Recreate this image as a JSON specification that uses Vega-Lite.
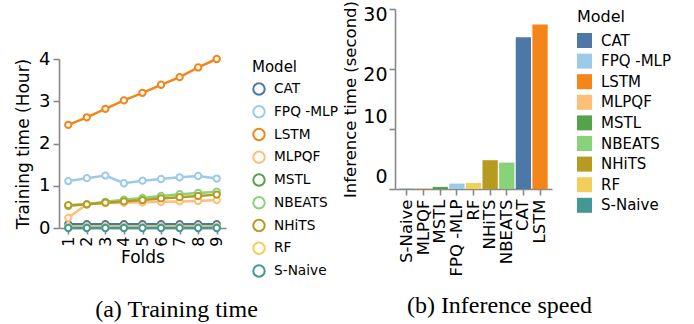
{
  "$schema": "https://vega.github.io/schema/vega-lite/v6.json",
  "padding": {"left": 14, "top": 0, "right": 0, "bottom": 0},
  "config": {
    "font": "DejaVu Sans",
    "view": {"stroke": null},
    "axis": {"grid": false, "domainColor": "#888", "domainWidth": 1.6, "tickColor": "#888", "tickWidth": 1.6, "tickSize": 6, "labelColor": "#000", "titleColor": "#000", "titleFontWeight": "normal"},
    "legend": {"labelColor": "#000", "titleColor": "#000", "titleFontWeight": "normal"},
    "title": {"font": "Liberation Serif", "fontWeight": "normal", "color": "#000", "fontSize": 24}
  },
  "datasets": {
    "train": [
      {"Model": "CAT", "Fold": 1, "Hours": 0.09}, {"Model": "CAT", "Fold": 2, "Hours": 0.09}, {"Model": "CAT", "Fold": 3, "Hours": 0.09}, {"Model": "CAT", "Fold": 4, "Hours": 0.09}, {"Model": "CAT", "Fold": 5, "Hours": 0.09}, {"Model": "CAT", "Fold": 6, "Hours": 0.09}, {"Model": "CAT", "Fold": 7, "Hours": 0.09}, {"Model": "CAT", "Fold": 8, "Hours": 0.09}, {"Model": "CAT", "Fold": 9, "Hours": 0.09},
      {"Model": "FPQ -MLP", "Fold": 1, "Hours": 1.11}, {"Model": "FPQ -MLP", "Fold": 2, "Hours": 1.18}, {"Model": "FPQ -MLP", "Fold": 3, "Hours": 1.24}, {"Model": "FPQ -MLP", "Fold": 4, "Hours": 1.06}, {"Model": "FPQ -MLP", "Fold": 5, "Hours": 1.12}, {"Model": "FPQ -MLP", "Fold": 6, "Hours": 1.16}, {"Model": "FPQ -MLP", "Fold": 7, "Hours": 1.2}, {"Model": "FPQ -MLP", "Fold": 8, "Hours": 1.23}, {"Model": "FPQ -MLP", "Fold": 9, "Hours": 1.17},
      {"Model": "LSTM", "Fold": 1, "Hours": 2.44}, {"Model": "LSTM", "Fold": 2, "Hours": 2.62}, {"Model": "LSTM", "Fold": 3, "Hours": 2.82}, {"Model": "LSTM", "Fold": 4, "Hours": 3.02}, {"Model": "LSTM", "Fold": 5, "Hours": 3.2}, {"Model": "LSTM", "Fold": 6, "Hours": 3.39}, {"Model": "LSTM", "Fold": 7, "Hours": 3.57}, {"Model": "LSTM", "Fold": 8, "Hours": 3.8}, {"Model": "LSTM", "Fold": 9, "Hours": 4.0},
      {"Model": "MLPQF", "Fold": 1, "Hours": 0.24}, {"Model": "MLPQF", "Fold": 2, "Hours": 0.56}, {"Model": "MLPQF", "Fold": 3, "Hours": 0.59}, {"Model": "MLPQF", "Fold": 4, "Hours": 0.6}, {"Model": "MLPQF", "Fold": 5, "Hours": 0.61}, {"Model": "MLPQF", "Fold": 6, "Hours": 0.62}, {"Model": "MLPQF", "Fold": 7, "Hours": 0.63}, {"Model": "MLPQF", "Fold": 8, "Hours": 0.64}, {"Model": "MLPQF", "Fold": 9, "Hours": 0.66},
      {"Model": "MSTL", "Fold": 1, "Hours": 0.01}, {"Model": "MSTL", "Fold": 2, "Hours": 0.01}, {"Model": "MSTL", "Fold": 3, "Hours": 0.01}, {"Model": "MSTL", "Fold": 4, "Hours": 0.01}, {"Model": "MSTL", "Fold": 5, "Hours": 0.01}, {"Model": "MSTL", "Fold": 6, "Hours": 0.01}, {"Model": "MSTL", "Fold": 7, "Hours": 0.01}, {"Model": "MSTL", "Fold": 8, "Hours": 0.01}, {"Model": "MSTL", "Fold": 9, "Hours": 0.01},
      {"Model": "NBEATS", "Fold": 1, "Hours": 0.52}, {"Model": "NBEATS", "Fold": 2, "Hours": 0.56}, {"Model": "NBEATS", "Fold": 3, "Hours": 0.62}, {"Model": "NBEATS", "Fold": 4, "Hours": 0.67}, {"Model": "NBEATS", "Fold": 5, "Hours": 0.71}, {"Model": "NBEATS", "Fold": 6, "Hours": 0.76}, {"Model": "NBEATS", "Fold": 7, "Hours": 0.8}, {"Model": "NBEATS", "Fold": 8, "Hours": 0.83}, {"Model": "NBEATS", "Fold": 9, "Hours": 0.86},
      {"Model": "NHiTS", "Fold": 1, "Hours": 0.54}, {"Model": "NHiTS", "Fold": 2, "Hours": 0.56}, {"Model": "NHiTS", "Fold": 3, "Hours": 0.6}, {"Model": "NHiTS", "Fold": 4, "Hours": 0.63}, {"Model": "NHiTS", "Fold": 5, "Hours": 0.66}, {"Model": "NHiTS", "Fold": 6, "Hours": 0.7}, {"Model": "NHiTS", "Fold": 7, "Hours": 0.73}, {"Model": "NHiTS", "Fold": 8, "Hours": 0.76}, {"Model": "NHiTS", "Fold": 9, "Hours": 0.79},
      {"Model": "RF", "Fold": 1, "Hours": 0.03}, {"Model": "RF", "Fold": 2, "Hours": 0.03}, {"Model": "RF", "Fold": 3, "Hours": 0.03}, {"Model": "RF", "Fold": 4, "Hours": 0.03}, {"Model": "RF", "Fold": 5, "Hours": 0.03}, {"Model": "RF", "Fold": 6, "Hours": 0.03}, {"Model": "RF", "Fold": 7, "Hours": 0.03}, {"Model": "RF", "Fold": 8, "Hours": 0.03}, {"Model": "RF", "Fold": 9, "Hours": 0.03},
      {"Model": "S-Naive", "Fold": 1, "Hours": 0.0}, {"Model": "S-Naive", "Fold": 2, "Hours": 0.0}, {"Model": "S-Naive", "Fold": 3, "Hours": 0.0}, {"Model": "S-Naive", "Fold": 4, "Hours": 0.0}, {"Model": "S-Naive", "Fold": 5, "Hours": 0.0}, {"Model": "S-Naive", "Fold": 6, "Hours": 0.0}, {"Model": "S-Naive", "Fold": 7, "Hours": 0.0}, {"Model": "S-Naive", "Fold": 8, "Hours": 0.0}, {"Model": "S-Naive", "Fold": 9, "Hours": 0.0}
    ],
    "infer": [
      {"Model": "S-Naive", "Seconds": 0.05},
      {"Model": "MLPQF", "Seconds": 0.15},
      {"Model": "MSTL", "Seconds": 0.35},
      {"Model": "FPQ -MLP", "Seconds": 0.9},
      {"Model": "RF", "Seconds": 1.0},
      {"Model": "NHiTS", "Seconds": 4.8},
      {"Model": "NBEATS", "Seconds": 4.4},
      {"Model": "CAT", "Seconds": 25.3},
      {"Model": "LSTM", "Seconds": 27.4}
    ]
  },
  "hconcat": [
    {
      "width": 167,
      "height": 219,
      "data": {"name": "train"},
      "title": {"text": "(a) Training time", "orient": "bottom", "frame": "group", "anchor": "middle", "dx": 34, "offset": 17},
      "encoding": {
        "x": {"field": "Fold", "type": "ordinal", "scale": {"padding": 0.5},
              "axis": {"title": "Folds", "titleFontSize": 17, "labelFontSize": 16, "labelAngle": -90, "labelBaseline": "middle", "titlePadding": 3}},
        "y": {"field": "Hours", "type": "quantitative", "scale": {"domain": [0, 4], "range": [219, 50]},
              "axis": {"title": "Training time (Hour)", "titleFontSize": 17, "labelFontSize": 18, "values": [0, 1, 2, 3, 4], "labelPadding": 3, "titlePadding": 6}},
        "color": {"field": "Model", "type": "nominal",
                  "scale": {"scheme": "tableau20", "domain": ["CAT", "FPQ -MLP", "LSTM", "MLPQF", "MSTL", "NBEATS", "NHiTS", "RF", "S-Naive"]},
                  "legend": {"title": "Model", "orient": "none", "legendX": 193, "legendY": 51, "titleFontSize": 15, "labelFontSize": 13.7, "symbolType": "circle", "symbolSize": 130, "symbolStrokeWidth": 2, "symbolFillColor": "white", "rowPadding": 2.75, "titlePadding": 7, "labelOffset": 8}}
      },
      "layer": [
        {"mark": {"type": "line", "strokeWidth": 2.5}},
        {"mark": {"type": "point", "shape": "circle", "filled": false, "fill": "white", "fillOpacity": 1, "opacity": 1, "strokeWidth": 2, "size": 40}}
      ]
    },
    {
      "width": 157,
      "height": 180,
      "data": {"name": "infer"},
      "title": {"text": "(b) Inference speed", "orient": "bottom", "frame": "group", "anchor": "middle", "dx": 26, "offset": 18},
      "mark": {"type": "bar"},
      "encoding": {
        "x": {"field": "Model", "type": "nominal",
              "sort": ["S-Naive", "MLPQF", "MSTL", "FPQ -MLP", "RF", "NHiTS", "NBEATS", "CAT", "LSTM"],
              "scale": {"paddingInner": 0.08, "paddingOuter": 0.26},
              "axis": {"title": null, "labelFontSize": 16.5, "labelAngle": -90, "labelPadding": 4}},
        "y": {"field": "Seconds", "type": "quantitative", "scale": {"domain": [0, 30]},
              "axis": {"title": "Inference time (second)", "titleFontSize": 16.5, "labelFontSize": 19, "values": [0, 10, 20, 30], "labelPadding": 2, "titlePadding": 4,
                       "labelOffset": {"condition": {"test": "datum.value >= 20", "value": 5.5}, "value": -13}}},
        "color": {"field": "Model", "type": "nominal",
                  "scale": {"scheme": "tableau20", "domain": ["CAT", "FPQ -MLP", "LSTM", "MLPQF", "MSTL", "NBEATS", "NHiTS", "RF", "S-Naive"]},
                  "legend": {"title": "Model", "offset": 25, "titleFontSize": 16, "labelFontSize": 15, "symbolType": "square", "symbolSize": 225, "symbolStrokeWidth": 0, "symbolOpacity": 1, "rowPadding": 4.6, "titlePadding": 8, "labelOffset": 9}}
      }
    }
  ],
  "spacing": 4,
  "resolve": {"scale": {"color": "independent"}, "legend": {"color": "independent"}}
}
